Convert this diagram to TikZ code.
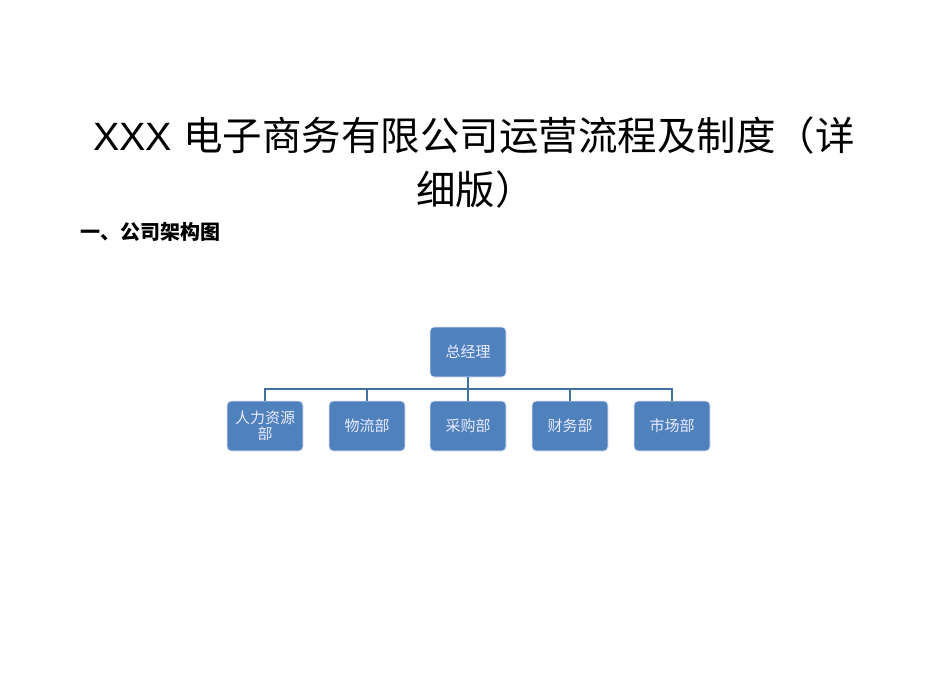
\documentclass[tikz,border=0pt]{standalone}
\usepackage{fontspec}
\setmainfont{Liberation Sans}
\newfontfamily\cjk{Noto Sans CJK SC}
\begin{document}
\begin{tikzpicture}[x=1pt,y=-1pt,
  orgbox/.style={draw=white!70!blue!30, line width=0.8pt, fill=boxblue, rounded corners=4pt,
    minimum width=76pt, minimum height=50pt, inner sep=1pt, text width=70pt, align=center,
    text=white!92!blue, font=\cjk\fontsize{15}{16}\selectfont},
  link/.style={draw=linkblue, line width=2.4pt}]
\definecolor{boxblue}{HTML}{4F81BD}
\definecolor{linkblue}{HTML}{41719C}
\useasboundingbox[fill=white] (0,0) rectangle (950,672);
\node[anchor=west, inner sep=0pt, font=\fontsize{39.5}{44}\selectfont] (t1) at (93,135) {XXX {\cjk 电子商务有限公司运营流程及制度（详}};
\node[anchor=west, inner sep=0pt, font=\cjk\fontsize{39.5}{44}\selectfont] (t2) at (416,189) {细版）};
\node[anchor=west, inner sep=0pt, font=\cjk\bfseries\fontsize{20}{22}\selectfont] (h1) at (80,232) {一、公司架构图};
\node[orgbox] (gm) at (468,352) {总经理};
\node[orgbox] (hr) at (265,426) {人力资源\\部};
\node[orgbox] (wl) at (367,426) {物流部};
\node[orgbox] (cg) at (468,426) {采购部};
\node[orgbox] (cw) at (570,426) {财务部};
\node[orgbox] (sc) at (672,426) {市场部};
\coordinate (bus) at (468,389);
\draw[link] (gm.south) -- (bus);
\draw[link] (hr.north) |- (bus);
\draw[link] (sc.north) |- (bus);
\foreach \n in {wl,cg,cw}{\draw[link] (\n.north) -- (\n.north |- bus);}
\end{tikzpicture}
\end{document}
